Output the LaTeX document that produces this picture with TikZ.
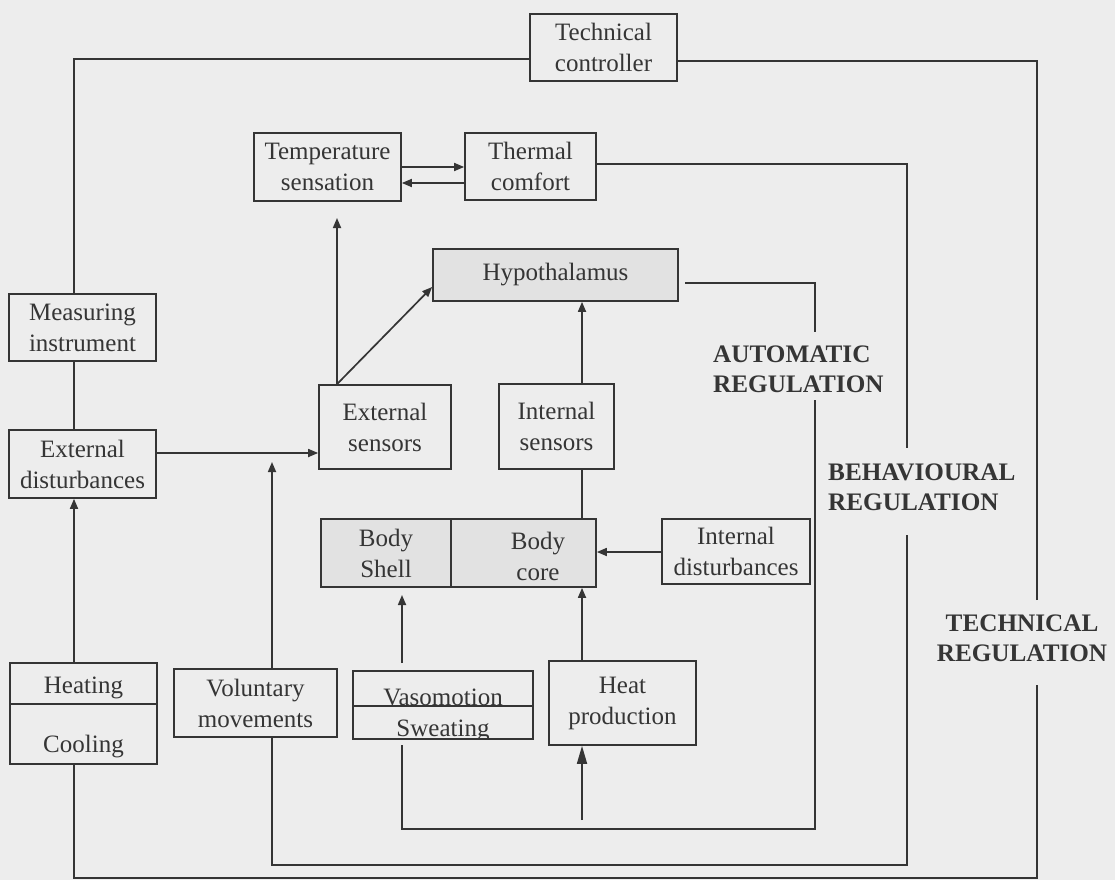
\documentclass[tikz,border=0pt]{standalone}
\usepackage{fontspec}
\setmainfont{Liberation Serif}
\usetikzlibrary{arrows.meta}
\definecolor{bg}{HTML}{EDEDED}
\definecolor{ink}{HTML}{353535}
\definecolor{shade}{HTML}{E2E2E2}
\begin{document}
\begin{tikzpicture}[x=1pt,y=-1pt,
  ln/.style={draw=ink, line width=1.7pt},
  arr/.style={ln, -{Triangle[length=10pt,width=8pt]}},
  bigarr/.style={ln, -{Triangle[length=18pt,width=10pt]}},
  txt/.style={inner sep=0pt, align=center, text=ink, font=\fontsize{25}{31}\selectfont},
  box/.style={txt, draw=ink, line width=1.7pt, fill=bg},
  sbox/.style={box, fill=shade},
  lab/.style={inner sep=0pt, text=ink, font=\bfseries\fontsize{25.2}{30}\selectfont}
]
\fill[bg] (0,0) rectangle (1115,880);
\useasboundingbox (0,0) rectangle (1115,880);

% boxes
\node[box, minimum width=147pt, minimum height=67pt] (techc) at (603.5,47.5) {Technical\\controller};
\node[box, minimum width=147pt, minimum height=68pt] (temps) at (327.5,167) {Temperature\\sensation};
\node[box, minimum width=131pt, minimum height=67pt] (thermc) at (530.5,166.5) {Thermal\\comfort};
\node[sbox, minimum width=245pt, minimum height=52pt] (hypo) at (555.5,275) {Hypothalamus};
\node[box, minimum width=147pt, minimum height=67pt] (meas) at (82.5,327.5) {Measuring\\instrument};
\node[box, minimum width=147pt, minimum height=68pt] (extd) at (82.5,464) {External\\disturbances};
\node[box, minimum width=132pt, minimum height=84pt] (exts) at (385,427) {External\\sensors};
\node[box, minimum width=115pt, minimum height=85pt] (ints) at (556.5,426.5) {Internal\\sensors};
\node[sbox, minimum width=130pt, minimum height=68pt] (shell) at (386,553) {Body\\Shell};
\node[sbox, minimum width=145pt, minimum height=68pt] (core) at (523.5,553) {};
\node[txt] (coretxt) at (538,556) {Body\\core};
\node[box, minimum width=148pt, minimum height=65pt] (intd) at (736,551.5) {Internal\\disturbances};
\node[box, minimum width=147pt, minimum height=41pt] (heating) at (83.5,683.5) {};
\node[txt] (heattxt) at (83.5,688) {Heating};
\node[box, minimum width=147pt, minimum height=60pt] (cooling) at (83.5,734) {};
\node[txt] (cooltxt) at (83.5,747) {Cooling};
\node[box, minimum width=163pt, minimum height=68pt] (vol) at (255.5,703) {Voluntary\\movements};
\node[box, minimum width=180pt, minimum height=35pt] (vaso) at (443,688.5) {};
\node[box, minimum width=180pt, minimum height=33pt] (sweat) at (443,722.5) {};
\node[txt, anchor=base] (vasotxt) at (443,705) {Vasomotion};
\begin{scope}
  \clip (sweat.north west) rectangle (sweat.south east);
  \node[txt, anchor=base] (sweattxt) at (443,736) {Sweating};
\end{scope}
\node[box, minimum width=147pt, minimum height=84pt] (heatp) at (622.5,703) {Heat\\production};

% regulation labels
\node[lab, align=left, anchor=west] (autolab) at (713,369) {AUTOMATIC\\REGULATION};
\node[lab, align=left, anchor=west] (behavlab) at (828,487) {BEHAVIOURAL\\REGULATION};
\node[lab, align=center] (techlab) at (1022,638) {TECHNICAL\\REGULATION};

% technical loop
\coordinate (tA) at (74,59);
\coordinate (tB) at (74,878);
\coordinate (tC) at (1037,878);
\coordinate (tE) at (1037,685);
\coordinate (tF) at (1037,600);
\coordinate (tD) at (1037,61);
\draw[ln] (techc.west |- tA) -- (tA) -- (meas.north -| tA);
\draw[ln] (meas.south -| tA) -- (extd.north -| tA);
\draw[arr] (heating.north -| tA) -- (extd.south -| tA);
\draw[ln] (cooling.south -| tA) -- (tB) -- (tC) -- (tE);
\draw[ln] (tF) -- (tD) -- (techc.east |- tD);

% behavioural loop
\coordinate (bA) at (907,164);
\coordinate (bB) at (907,448);
\coordinate (bC) at (907,535);
\coordinate (bD) at (907,865);
\coordinate (bE) at (272,865);
\coordinate (bF) at (272,462);
\draw[ln] (thermc.east |- bA) -- (bA) -- (bB);
\draw[ln] (bC) -- (bD) -- (bE) -- (vol.south -| bE);
\draw[arr] (vol.north -| bF) -- (bF);

% automatic loop
\coordinate (aA) at (685,283);
\coordinate (aB) at (815,283);
\coordinate (aC) at (815,332);
\coordinate (aD) at (815,400);
\coordinate (aE) at (815,829);
\coordinate (aF) at (402,829);
\coordinate (aG) at (402,745);
\draw[ln] (aA) -- (aB) -- (aC);
\draw[ln] (aD) -- (aE) -- (aF) -- (aG);

% inner connectors
\coordinate (hA) at (582,820);
\draw[bigarr] (hA) -- (heatp.south -| hA);
\draw[arr] (heatp.north -| hA) -- (core.south -| hA);
\coordinate (vA) at (402,663);
\coordinate (vB) at (402,595);
\draw[arr] (vA) -- (vB);
\draw[arr] (ints.north -| hA) -- (hypo.south -| hA);
\draw[ln] (ints.south -| hA) -- (core.north -| hA);
\coordinate (dA) at (662,552);
\draw[arr] (intd.west |- dA) -- (core.east |- dA);
\coordinate (eA) at (156,453);
\draw[arr] (extd.east |- eA) -- (exts.west |- eA);
\coordinate (sA) at (337,385);
\coordinate (sB) at (337,218);
\coordinate (hB) at (433,287);
\draw[arr] (exts.north -| sA) -- (sB);
\draw[arr] (exts.north -| sA) -- (hypo.west |- hB);
\coordinate (tsA) at (430,167);
\coordinate (tsB) at (430,183);
\draw[arr] (temps.east |- tsA) -- (thermc.west |- tsA);
\draw[arr] (thermc.west |- tsB) -- (temps.east |- tsB);
\end{tikzpicture}
\end{document}
